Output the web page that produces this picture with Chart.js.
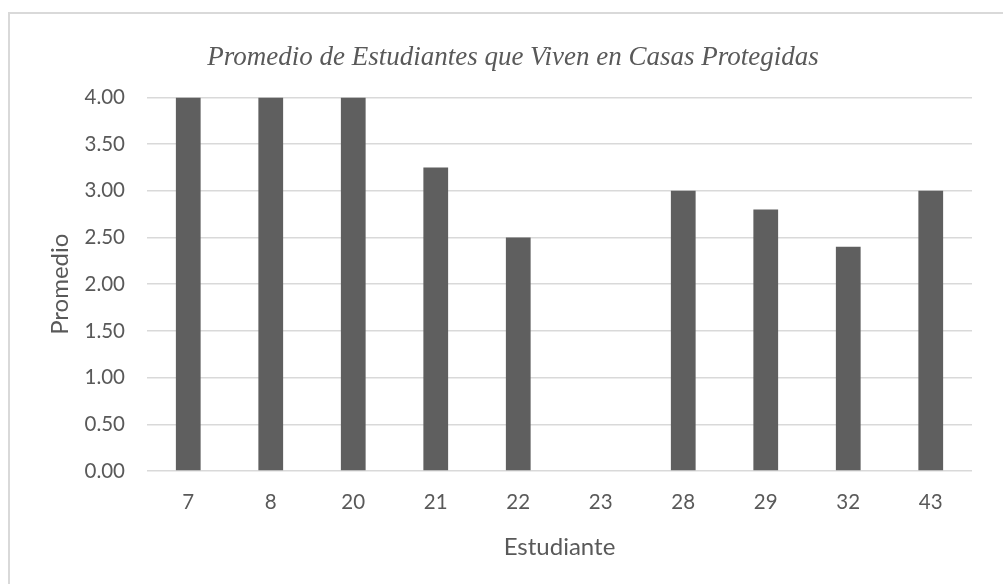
<!DOCTYPE html>
<html>
<head>
<meta charset="utf-8">
<script src="https://cdn.jsdelivr.net/npm/chart.js@4/dist/chart.umd.min.js"></script>
<style>
  html, body { margin: 0; padding: 0; background: #fff; overflow: hidden; }
  #frame { position: absolute; left: 8px; top: 12px; width: 1100px; height: 700px; border: 2px solid #d9d9d9; box-sizing: border-box; }
  #chart { position: absolute; left: 0; top: 0; }
</style>
</head>
<body>
<div id="frame"></div>
<canvas id="chart" width="1003" height="584"></canvas>
<script>
// Chart data
const students = ['7', '8', '20', '21', '22', '23', '28', '29', '32', '43'];
const averages = [4.0, 4.0, 4.0, 3.25, 2.5, 0, 3.0, 2.8, 2.4, 3.0];
const yTicks = [0, 0.5, 1, 1.5, 2, 2.5, 3, 3.5, 4];

const chartTitle = 'Promedio de Estudiantes que Viven en Casas Protegidas';
const xTitle = 'Estudiante';
const yTitle = 'Promedio';

const textColor = '#595959';
const sansFont = 'Lato, "Open Sans", sans-serif';

const ctx = document.getElementById('chart').getContext('2d');
new Chart(ctx, {
  type: 'bar',
  data: {
    labels: students,
    datasets: [{
      label: yTitle,
      data: averages,
      backgroundColor: '#5f5f5f',
      categoryPercentage: 1,
      barPercentage: 0.3
    }]
  },
  options: {
    responsive: false,
    animation: false,
    // left padding centres the title where the original has it
    layout: { padding: { left: 54, right: 31, top: 0, bottom: 0 } },
    plugins: {
      legend: { display: false },
      tooltip: { enabled: false },
      title: {
        display: true,
        text: chartTitle,
        color: textColor,
        font: { family: '"Liberation Serif", serif', style: 'italic', size: 27, weight: 'normal' },
        padding: { top: 42, bottom: 23 }
      }
    },
    scales: {
      x: {
        grid: { display: false, drawTicks: false },
        border: { display: false },
        ticks: { color: textColor, font: { family: sansFont, size: 20.5 }, padding: 19 },
        title: {
          display: true,
          text: xTitle,
          color: textColor,
          font: { family: sansFont, size: 24 },
          padding: { top: 10, bottom: 22 }
        },
        afterFit: (scale) => { scale.height = 113; }
      },
      y: {
        min: 0,
        max: 4,
        afterBuildTicks: (scale) => { scale.ticks = yTicks.map(v => ({ value: v })); },
        grid: { color: '#d9d9d9', lineWidth: 1.5, drawTicks: false },
        border: { display: false },
        ticks: {
          color: textColor,
          font: { family: sansFont, size: 20.5 },
          padding: 22,
          callback: (v) => v.toFixed(2)
        },
        title: {
          display: true,
          text: yTitle,
          color: textColor,
          font: { family: sansFont, size: 24 },
          padding: { top: -8, bottom: 0 }
        },
        afterFit: (scale) => { scale.width = 93; }
      }
    }
  }
});
</script>
</body>
</html>
